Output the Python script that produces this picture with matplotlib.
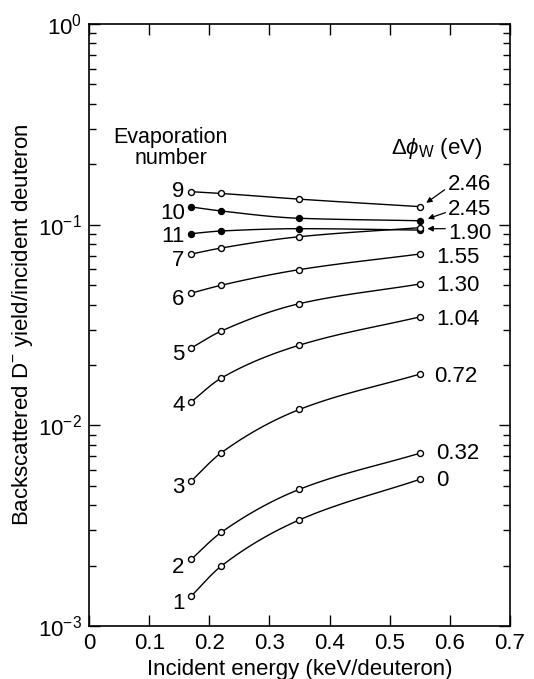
#plot.py
#Backscattered D- yield vs incident energy for each evaporation number

import matplotlib.pyplot as plt
import numpy as np

plt.rcParams['font.family'] = ['Liberation Sans', 'DejaVu Sans']
plt.rcParams['mathtext.fontset'] = 'custom'
plt.rcParams['mathtext.rm'] = 'Liberation Sans'
plt.rcParams['mathtext.it'] = 'Liberation Sans:italic'

#data
energy = [0.17, 0.22, 0.35, 0.55]

evap_numbers = ["9", "10", "11", "7", "6", "5", "4", "3", "2", "1"]
filled = [False, True, True, False, False, False, False, False, False, False]

yield_9 = [0.146, 0.143, 0.134, 0.123]
yield_10 = [0.1225, 0.117, 0.1076, 0.1046]
yield_11 = [0.0902, 0.093, 0.0955, 0.094]
yield_7 = [0.0714, 0.0765, 0.0871, 0.0966]
yield_6 = [0.0456, 0.0499, 0.0597, 0.0714]
yield_5 = [0.0243, 0.0295, 0.0404, 0.0506]
yield_4 = [0.0131, 0.0172, 0.0251, 0.0347]
yield_3 = [0.00528, 0.0073, 0.0120, 0.0180]
yield_2 = [0.00215, 0.00293, 0.0048, 0.00726]
yield_1 = [0.00141, 0.00199, 0.00338, 0.00538]

all_yields = [yield_9, yield_10, yield_11, yield_7, yield_6,
              yield_5, yield_4, yield_3, yield_2, yield_1]

dphi_labels = ["2.46", "2.45", "1.90", "1.55", "1.30", "1.04", "0.72", "0.32", "0"]

#small vertical nudges for the left labels (multiplicative, log axis)
left_shift = [1.03, 0.955, 1.0, 0.96, 0.96, 0.955, 0.985, 0.95, 0.935, 0.95]


def pchip(x, y, xs):
    #monotone cubic (Fritsch-Carlson) so the drawn curve does not wiggle
    x = np.asarray(x, float)
    y = np.asarray(y, float)
    h = np.diff(x)
    d = np.diff(y) / h
    m = np.zeros_like(y)
    m[0], m[-1] = d[0], d[-1]
    for k in range(1, len(x) - 1):
        if d[k-1] * d[k] > 0:
            w1 = 2*h[k] + h[k-1]
            w2 = h[k] + 2*h[k-1]
            m[k] = (w1 + w2) / (w1/d[k-1] + w2/d[k])
    out = np.empty_like(xs)
    idx = np.clip(np.searchsorted(x, xs) - 1, 0, len(x) - 2)
    for j, xv in enumerate(xs):
        k = idx[j]
        t = (xv - x[k]) / h[k]
        h00 = 2*t**3 - 3*t**2 + 1
        h10 = t**3 - 2*t**2 + t
        h01 = -2*t**3 + 3*t**2
        h11 = t**3 - t**2
        out[j] = h00*y[k] + h10*h[k]*m[k] + h01*y[k+1] + h11*h[k]*m[k+1]
    return out


#figure
fig = plt.figure(figsize=(5.34, 6.79), dpi=100)
ax = fig.add_axes([89/534, 53/679, 421/534, 602/679])
ax.set_yscale("log")
ax.set_xlim(0, 0.7)
ax.set_ylim(1e-3, 1)

#curves through the points, then the markers
for num, ys, full, sh in zip(evap_numbers, all_yields, filled, left_shift):
    xs = np.linspace(energy[0], energy[-1], 120)
    ax.plot(xs, 10**pchip(energy, np.log10(ys), xs), color="black", linewidth=1.0, zorder=2)
    ax.plot(energy, ys, linestyle="none", marker="o", markersize=4.3,
            markeredgewidth=1.0, markeredgecolor="black",
            markerfacecolor="black" if full else "white", zorder=3)
    ax.text(energy[0] - 0.011, ys[0] * sh, num, ha="right", va="center_baseline", fontsize=16)

#right hand labels
lab_x = [0.597, 0.597, 0.597, 0.577, 0.577, 0.577, 0.574, 0.577, 0.577]
lab_y = [0.158, 0.119, 0.0905, 0.0685, 0.0495, 0.0338, 0.0176, 0.0072, 0.0053]
for t, lx, ly in zip(dphi_labels, lab_x, lab_y):
    ax.text(lx, ly, t, ha="left", va="center", fontsize=16)

#arrows to the crowded points
arr = dict(arrowstyle="-|>", color="black", linewidth=0.9, mutation_scale=8)
ax.annotate("", xy=(0.557, 0.126), xytext=(0.595, 0.152), arrowprops=arr)
ax.annotate("", xy=(0.559, 0.106), xytext=(0.597, 0.116), arrowprops=arr)
ax.annotate("", xy=(0.558, 0.0955), xytext=(0.597, 0.0955), arrowprops=arr)

#headers
ax.text(0.136, 0.24, "Evaporation\nnumber", ha="center", va="center",
        fontsize=15.5, linespacing=1.0)
ax.text(0.578, 0.24, r"$\Delta\phi_{\rm W}$ (eV)", ha="center", va="center", fontsize=16)

#axes style
ax.set_xticks(np.arange(0, 0.71, 0.1))
ax.set_xticklabels(["0", "0.1", "0.2", "0.3", "0.4", "0.5", "0.6", "0.7"])
ax.tick_params(which="both", direction="in", top=True, right=True, labelsize=16, width=1.0)
ax.tick_params(which="major", length=8, pad=5)
ax.tick_params(which="minor", length=5)
for s in ax.spines.values():
    s.set_linewidth(1.2)

ax.set_xlabel("Incident energy (keV/deuteron)", fontsize=16, labelpad=4)
ax.set_ylabel(r"Backscattered D$^{-}$ yield/incident deuteron", fontsize=16, labelpad=2)

plt.savefig("out.png", dpi=100)
